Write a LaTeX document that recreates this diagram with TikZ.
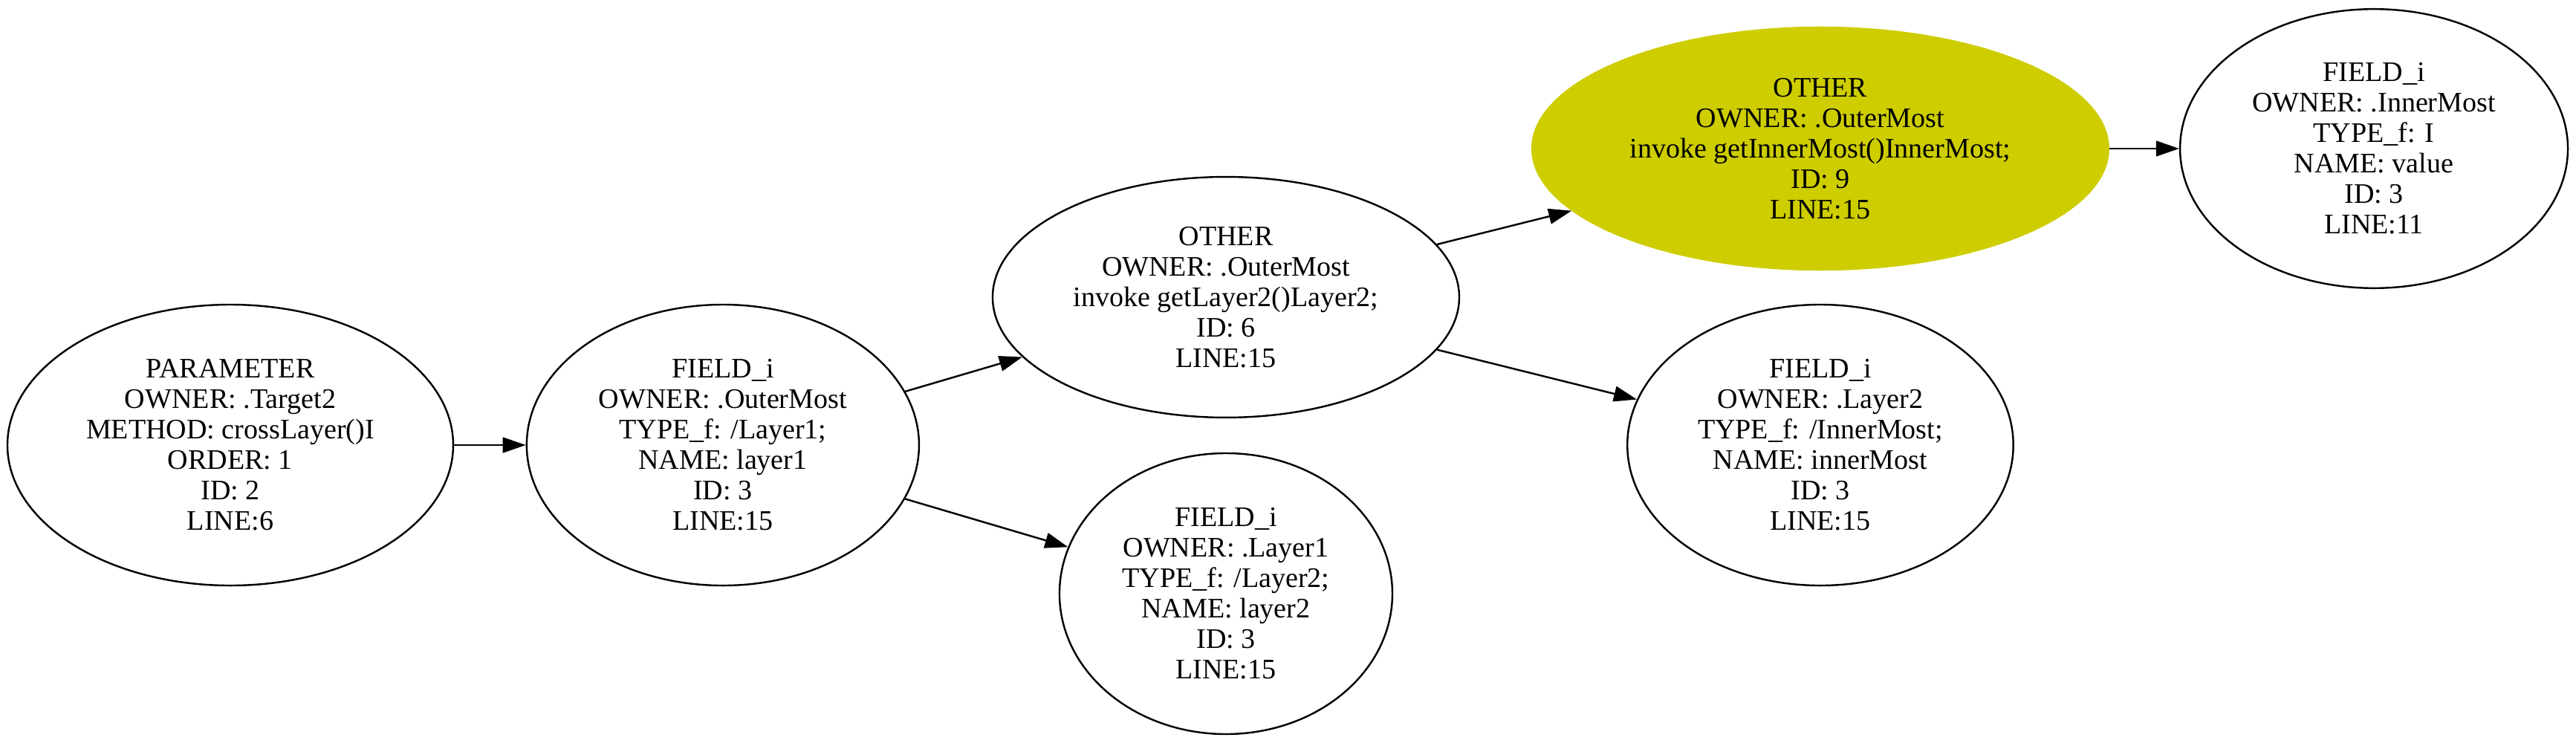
\documentclass[tikz,border=0pt]{standalone}
\usepackage{fontspec}
\setmainfont{Liberation Serif}
\usetikzlibrary{arrows.meta,positioning,shapes.geometric}
\definecolor{yellowthree}{HTML}{CDCD00}
\tikzset{%
	vertex/.style = {draw, ellipse, line width=1pt, inner sep=0pt, align=center, font=\fontsize{15.6}{16.8}\selectfont}, % plain node
	hilite/.style = {vertex, draw=yellowthree, fill=yellowthree}, % marked node
	edge/.style   = {line width=1pt, -{Triangle[length=12.7pt,width=8.5pt]}},
}

\begin{document}
\begin{tikzpicture}[on grid, node distance=271.8pt]
	\useasboundingbox (-127.1pt,245.6pt) rectangle (1294.4pt,-164.4pt);
	\node [vertex, minimum width=246pt, minimum height=155pt] (param) {PARAMETER\\OWNER: .Target2\\METHOD: crossLayer()I\\ORDER: 1\\ID: 2\\LINE:6};
	\node [vertex, minimum width=216.5pt, minimum height=155pt] (outer) [right=of param] {FIELD\_i\\OWNER: .OuterMost\\TYPE\_f: /Layer1;\\NAME: layer1\\ID: 3\\LINE:15};
	\node [vertex, minimum width=257.5pt, minimum height=132.8pt] (getlayer) [above right=81.6pt and 277.6pt of outer] {OTHER\\OWNER: .OuterMost\\invoke getLayer2()Layer2;\\ID: 6\\LINE:15};
	\node [vertex, minimum width=183.7pt, minimum height=155pt] (layerone) [below right=82pt and 277.6pt of outer] {FIELD\_i\\OWNER: .Layer1\\TYPE\_f: /Layer2;\\NAME: layer2\\ID: 3\\LINE:15};
	\node [hilite, minimum width=318pt, minimum height=133.7pt] (getinner) [above right=82pt and 328pt of getlayer] {OTHER\\OWNER: .OuterMost\\invoke getInnerMost()InnerMost;\\ID: 9\\LINE:15};
	\node [vertex, minimum width=213pt, minimum height=155pt] (layertwo) [below right=81.6pt and 328pt of getlayer] {FIELD\_i\\OWNER: .Layer2\\TYPE\_f: /InnerMost;\\NAME: innerMost\\ID: 3\\LINE:15};
	\node [vertex, minimum width=214pt, minimum height=154pt] (inner) [right=305.5pt of getinner] {FIELD\_i\\OWNER: .InnerMost\\TYPE\_f: I\\NAME: value\\ID: 3\\LINE:11};

	\draw[edge] (param) -- (outer);
	\draw[edge] (outer) -- (getlayer);
	\draw[edge] (outer) -- (layerone);
	\draw[edge] (getlayer) -- (getinner);
	\draw[edge] (getlayer) -- (layertwo);
	\draw[edge] (getinner) -- (inner);
\end{tikzpicture}
\end{document}
